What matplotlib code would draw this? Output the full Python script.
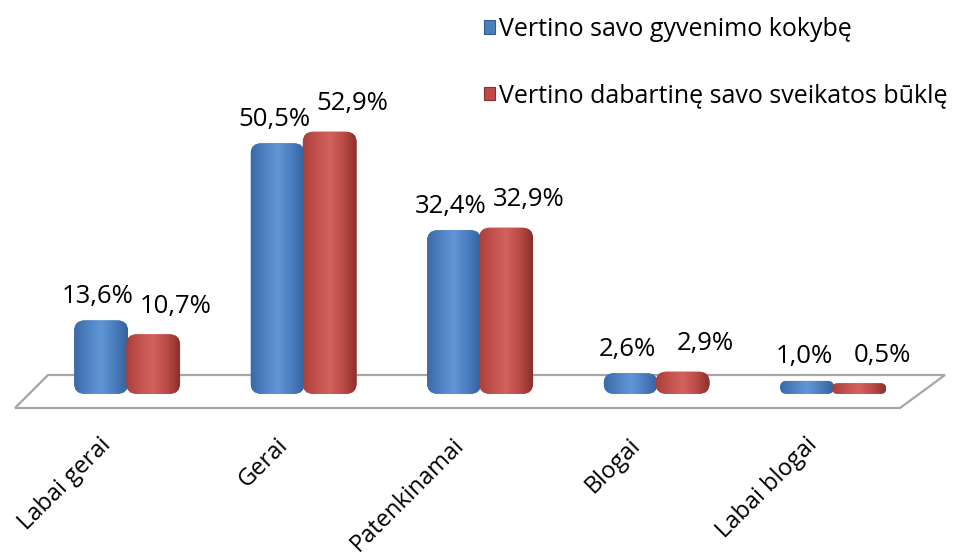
import numpy as np
import matplotlib.pyplot as plt
from matplotlib.patches import FancyBboxPatch, Polygon, Patch
from matplotlib.colors import to_rgb

categories = ['Labai gerai', 'Gerai', 'Patenkinamai', 'Blogai', 'Labai blogai']
gyvenimo = [13.6, 50.5, 32.4, 2.6, 1.0]
sveikatos = [10.7, 52.9, 32.9, 2.9, 0.5]
series_names = ['Vertino savo gyvenimo kokybę', 'Vertino dabartinę savo sveikatos būklę']

plt.rcParams['font.family'] = ['Open Sans', 'DejaVu Sans']

W, H = 968, 555
fig = plt.figure(figsize=(W / 100, H / 100), dpi=100)
ax = fig.add_axes([0, 0, 1, 1])

# pixel scale: one category = 176.5 px, one percent = 4.8 px, baseline 390 px from top
sx, sy = 176.5, 4.8
x0px, y0px = 128, 390
aspect = sx / sy
cap = 0.9     # extra height of the bar top face (3d look)
foot = 0.8    # bar goes a bit below the floor line


def px(x, y):
    return ((x - x0px) / sx, (y0px - y) / sy)


# floor of the 3d plot
floor = Polygon([px(48, 375), px(945, 375), px(900, 408), px(15, 408)],
                closed=True, fc='white', ec='#a6a6a6', lw=1.6, zorder=1)
ax.add_patch(floor)

blue_grad = ['#3a69a6', '#4f82c3', '#6196d6', '#4b7ebf', '#35639c']
red_grad = ['#a8403c', '#c4524e', '#d2625d', '#bd4c48', '#8a2f2c']
bw = 0.305


def draw_bar(x, v, grad):
    top = v + cap
    hh = top + foot
    r = min(0.06, hh / 2 / aspect)
    patch = FancyBboxPatch((x, -foot), bw, hh,
                           boxstyle=f'round,pad=0,rounding_size={r}',
                           mutation_aspect=aspect, fc=grad[1], ec='none', zorder=3)
    ax.add_patch(patch)
    stops = np.linspace(0, 1, len(grad))
    t = np.linspace(0, 1, 64)
    cols = np.array([to_rgb(c) for c in grad])
    img = np.stack([np.interp(t, stops, cols[:, k]) for k in range(3)], axis=-1)[None, :, :]
    im = ax.imshow(img, extent=(x, x + bw, -foot, top), aspect='auto', zorder=3.1,
                   interpolation='bilinear')
    im.set_clip_path(patch)
    return top


def fmt(v):
    return f'{v:.1f}'.replace('.', ',') + '%'


for i, (a, b) in enumerate(zip(gyvenimo, sveikatos)):
    ta = draw_bar(i - bw, a, blue_grad)
    tb = draw_bar(i - 0.01, b, red_grad)
    ax.annotate(fmt(a), xy=(i, ta), xytext=(-30, 24), textcoords='offset pixels',
                ha='center', va='center', fontsize=18.5, color='black', zorder=5)
    ax.annotate(fmt(b), xy=(i, tb), xytext=(48, 28), textcoords='offset pixels',
                ha='center', va='center', fontsize=18.5, color='black', zorder=5)
    ax.text(i - 0.165, -9.0, categories[i], rotation=45, ha='right', va='top',
            rotation_mode='anchor', fontsize=17, color='black')

handles = [Patch(fc='#4a7ebb', ec='#2f5c94', lw=0.8), Patch(fc='#be4b48', ec='#8a2f2c', lw=0.8)]
ax.legend(handles, series_names, loc='upper left', bbox_to_anchor=(484 / W, 1 - 17 / H),
          frameon=False, handlelength=0.45, handleheight=0.45, handletextpad=0.15,
          labelspacing=1.65, borderpad=0, borderaxespad=0, fontsize=18)

ax.set_xlim(-x0px / sx, (W - x0px) / sx)
ax.set_ylim(-(H - y0px) / sy, y0px / sy)
ax.axis('off')

fig.savefig('out.png', dpi=100)
